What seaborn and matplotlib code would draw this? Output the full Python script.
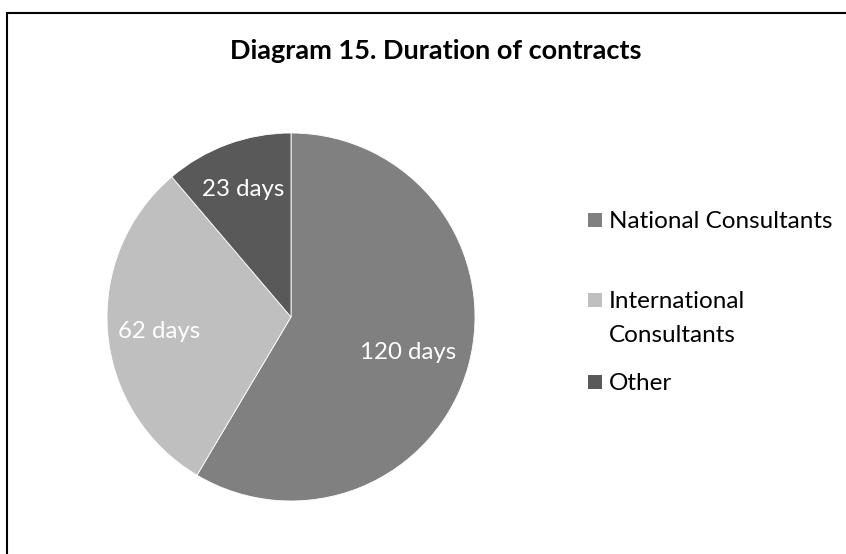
import matplotlib
matplotlib.use("Agg")
import matplotlib.pyplot as plt
from matplotlib.patches import Rectangle
import numpy as np
import seaborn as sns

# chart data
categories = ["National Consultants", "International\nConsultants", "Other"]
durations = [120, 62, 23]
slice_colors = ["#808080", "#BFBFBF", "#595959"]
label_dist = [0.66, 0.72, 0.76]

W, H = 846, 554

sns.set_theme(style="white")
plt.rcParams["font.family"] = ["Lato", "DejaVu Sans"]

fig = plt.figure(figsize=(W / 100, H / 100), dpi=100)
ax = fig.add_axes([107 / W, 53 / H, 368 / W, 368 / H])

wedges, _ = ax.pie(durations, colors=slice_colors, startangle=90, counterclock=False,
                   wedgeprops=dict(edgecolor="white", linewidth=0.6))
ax.set_xlim(-1, 1)
ax.set_ylim(-1, 1)
ax.set_aspect("equal")
ax.axis("off")

# data labels inside each slice
for w, val, d in zip(wedges, durations, label_dist):
    mid = np.deg2rad((w.theta1 + w.theta2) / 2)
    ax.text(d * np.cos(mid), d * np.sin(mid) - 0.02, f"{val} days", ha="center", va="center",
            color="white", fontsize=17.3)

fig.text(436 / W, 1 - 51 / H, "Diagram 15. Duration of contracts", ha="center", va="center",
         fontsize=19.5, fontweight="bold", color="black")

# legend drawn by hand so the square sits next to the first line of a wrapped label
row_y = [220, 300, 382]
line_step = 33
for cat, col, y in zip(categories, slice_colors, row_y):
    fig.patches.append(Rectangle((588 / W, 1 - (y + 7) / H), 14 / W, 14 / H,
                                 transform=fig.transFigure, facecolor=col, edgecolor="none"))
    for i, line in enumerate(cat.split("\n")):
        fig.text(609 / W, 1 - (y + 2 + i * line_step) / H, line, ha="left", va="center",
                 fontsize=17.5, color="black")

# chart area frame (right and bottom edges fall outside the picture)
fig.patches.append(Rectangle((7 / W, -0.05), 1, 1 - 12.5 / H + 0.05, transform=fig.transFigure,
                             fill=False, edgecolor="black", linewidth=1.5))

fig.savefig("out.png", dpi=100)
